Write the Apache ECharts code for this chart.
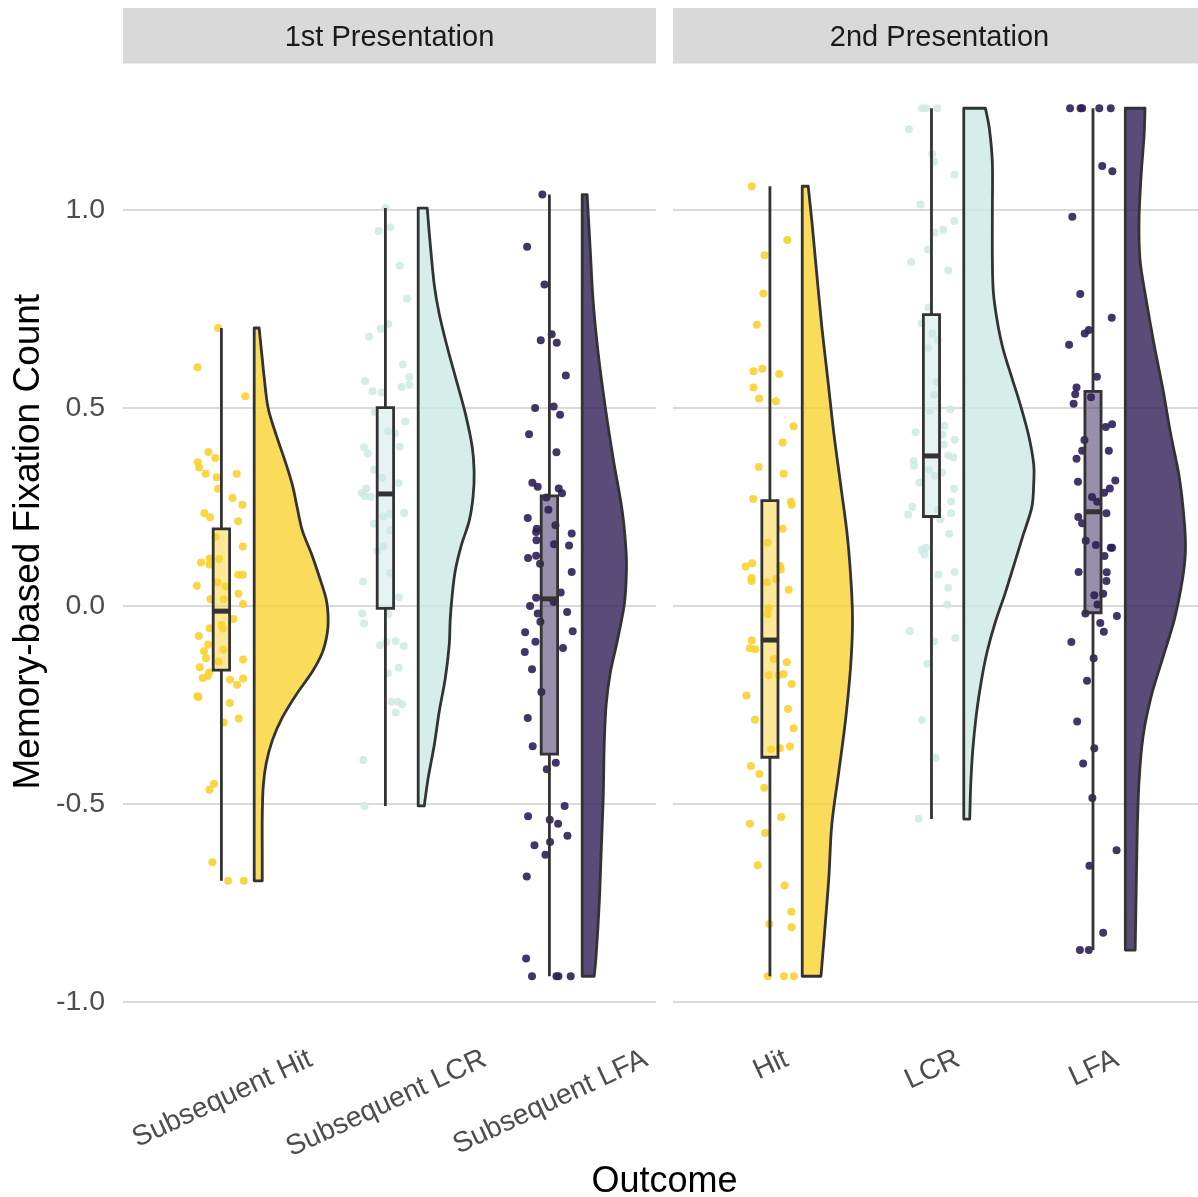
<!DOCTYPE html>
<html>
<head>
<meta charset="utf-8">
<script src="https://cdn.jsdelivr.net/npm/echarts@6.0.0/dist/echarts.min.js"></script>
<style>
  html, body { margin: 0; padding: 0; background: #ffffff; }
  #chart { width: 1198px; height: 1197px; }
</style>
</head>
<body>
<div id="chart"></div>
<script>
// ---------------- data ----------------
const facets = ['1st Presentation', '2nd Presentation'];
const categories1 = ['Subsequent Hit', 'Subsequent LCR', 'Subsequent LFA'];
const categories2 = ['Hit', 'LCR', 'LFA'];
const yTicks = [-1.0, -0.5, 0.0, 0.5, 1.0];

// box statistics: [lower whisker, Q1, median, Q3, upper whisker]
const boxSubHit = [-0.694, -0.162, -0.013, 0.195, 0.702];
const boxSubLCR = [-0.505, -0.006, 0.283, 0.501, 1.005];
const boxSubLFA = [-0.935, -0.374, 0.018, 0.278, 1.039];
const boxHit    = [-0.935, -0.382, -0.086, 0.266, 1.060];
const boxLCR    = [-0.538, 0.226, 0.379, 0.736, 1.257];
const boxLFA    = [-0.869, -0.017, 0.238, 0.542, 1.257];

// raw observations: [horizontal jitter, fixation count]
const ptsSubHit = [
  [-0.020,0.702],[-0.146,0.603],[0.146,0.530],[-0.079,0.389],[-0.037,0.374],[-0.144,0.363],[-0.136,0.350],
  [-0.096,0.334],[0.093,0.334],[-0.028,0.325],[-0.020,0.296],[0.067,0.273],[0.128,0.256],[-0.104,0.234],
  [-0.069,0.224],[0.102,0.214],[-0.035,0.175],[0.130,0.150],[-0.124,0.110],[-0.071,0.120],[-0.073,0.105],
  [-0.014,0.119],[0.102,0.079],[0.130,0.079],[-0.150,0.051],[-0.024,0.060],[0.026,0.049],[0.104,0.031],
  [-0.067,0.017],[0.014,0.017],[0.132,0.005],[0.073,-0.033],[-0.071,-0.056],[0.010,-0.057],[0.000,-0.048],
  [-0.138,-0.076],[-0.081,-0.097],[-0.106,-0.114],[0.012,-0.110],[-0.094,-0.132],[0.132,-0.135],[-0.016,-0.141],
  [-0.132,-0.155],[-0.075,-0.168],[-0.114,-0.182],[-0.083,-0.177],[0.053,-0.186],[0.132,-0.183],[0.096,-0.199],
  [-0.140,-0.230],[-0.146,-0.228],[0.051,-0.245],[0.014,-0.294],[0.106,-0.284],[-0.045,-0.449],[-0.073,-0.464],
  [-0.055,-0.647],[0.041,-0.694],[0.136,-0.694]
];
const ptsSubLCR = [
  [0.000,1.005],[-0.041,0.947],[0.030,0.956],[0.087,0.860],[0.132,0.776],[0.018,0.712],[-0.028,0.700],
  [-0.100,0.680],[0.106,0.610],[0.146,0.578],[0.146,0.559],[0.098,0.553],[-0.124,0.568],[-0.079,0.542],
  [-0.022,0.539],[-0.067,0.490],[0.120,0.466],[0.016,0.441],[0.059,0.436],[-0.130,0.401],[-0.108,0.385],
  [0.087,0.402],[-0.069,0.344],[-0.020,0.324],[0.081,0.310],[-0.116,0.297],[-0.144,0.286],[-0.126,0.278],
  [-0.089,0.276],[0.028,0.233],[0.114,0.235],[-0.014,0.226],[-0.071,0.208],[0.028,0.191],[-0.012,0.150],
  [-0.049,0.139],[0.030,0.084],[-0.136,0.062],[0.083,0.022],[0.016,-0.020],[-0.142,-0.019],[-0.130,-0.044],
  [-0.033,-0.099],[0.006,-0.091],[0.063,-0.089],[0.112,-0.101],[0.081,-0.156],[0.016,-0.170],[0.037,-0.242],
  [0.077,-0.242],[0.102,-0.248],[0.063,-0.269],[-0.134,-0.389],[-0.128,-0.505]
];
const ptsSubLFA = [
  [-0.043,1.039],[-0.136,0.907],[-0.030,0.812],[-0.053,0.671],[0.014,0.686],[0.045,0.665],[0.100,0.582],
  [-0.087,0.500],[0.026,0.504],[0.065,0.483],[-0.124,0.434],[0.043,0.388],[-0.104,0.311],[-0.071,0.301],
  [0.057,0.297],[0.077,0.285],[-0.018,0.274],[-0.006,0.243],[-0.132,0.222],[-0.077,0.195],[-0.081,0.187],
  [0.037,0.204],[0.136,0.183],[-0.079,0.166],[0.028,0.156],[0.120,0.153],[-0.130,0.121],[-0.081,0.127],
  [-0.057,0.107],[0.136,0.086],[-0.081,0.021],[0.069,0.034],[0.026,0.010],[-0.118,0.000],[-0.071,-0.019],
  [0.108,-0.015],[-0.055,-0.040],[-0.148,-0.066],[0.142,-0.064],[-0.085,-0.090],[-0.150,-0.116],[0.083,-0.106],
  [-0.106,-0.160],[-0.049,-0.217],[-0.132,-0.283],[-0.102,-0.354],[-0.016,-0.412],[0.039,-0.396],[0.093,-0.505],
  [-0.130,-0.531],[0.002,-0.540],[0.053,-0.550],[0.110,-0.580],[-0.091,-0.604],[0.004,-0.596],[-0.024,-0.628],
  [-0.138,-0.683],[-0.142,-0.890],[-0.106,-0.935],[0.043,-0.935],[0.055,-0.935],[0.130,-0.935]
];
const ptsHit = [
  [-0.112,1.060],[0.108,0.924],[-0.033,0.886],[-0.041,0.789],[-0.081,0.710],[-0.102,0.593],[-0.047,0.599],
  [0.057,0.586],[-0.102,0.552],[-0.067,0.524],[0.037,0.517],[0.146,0.454],[0.079,0.413],[0.085,0.334],
  [-0.069,0.351],[-0.104,0.270],[0.130,0.263],[0.134,0.256],[0.079,0.195],[-0.014,0.160],[-0.150,0.100],
  [-0.110,0.108],[-0.114,0.071],[-0.114,0.063],[-0.020,0.060],[0.037,0.068],[0.063,0.101],[0.067,0.092],
  [0.116,0.041],[-0.008,-0.006],[-0.014,-0.021],[-0.112,-0.087],[-0.124,-0.107],[-0.091,-0.109],[0.024,-0.134],
  [0.104,-0.142],[-0.008,-0.175],[0.053,-0.175],[0.085,-0.172],[-0.146,-0.226],[0.134,-0.197],[0.112,-0.260],
  [-0.093,-0.287],[0.146,-0.309],[0.008,-0.362],[0.061,-0.359],[0.124,-0.355],[-0.118,-0.404],[-0.065,-0.424],
  [-0.035,-0.459],[-0.124,-0.550],[0.069,-0.533],[-0.030,-0.573],[-0.075,-0.655],[0.091,-0.706],[-0.004,-0.803],
  [0.132,-0.772],[0.134,-0.811],[-0.014,-0.935],[0.087,-0.935],[0.148,-0.935]
];
const ptsLCR = [
  [-0.059,1.257],[-0.033,1.257],[0.037,1.257],[-0.140,1.204],[0.004,1.142],[0.016,1.122],[0.142,1.089],
  [-0.067,1.014],[0.142,0.972],[0.020,0.943],[0.073,0.950],[-0.022,0.900],[-0.126,0.869],[0.104,0.847],
  [-0.018,0.754],[-0.061,0.714],[0.006,0.688],[0.041,0.672],[-0.020,0.652],[0.033,0.566],[0.016,0.533],
  [0.116,0.497],[-0.012,0.493],[0.081,0.455],[-0.098,0.439],[0.069,0.433],[0.144,0.420],[0.077,0.408],
  [0.104,0.380],[0.136,0.375],[-0.110,0.366],[-0.108,0.354],[-0.016,0.344],[0.020,0.329],[0.065,0.337],
  [-0.075,0.312],[0.140,0.296],[0.122,0.264],[-0.118,0.250],[-0.144,0.231],[0.039,0.243],[0.122,0.234],
  [0.055,0.219],[0.110,0.182],[-0.033,0.147],[-0.059,0.142],[-0.043,0.130],[0.144,0.086],[0.043,0.079],
  [0.104,0.046],[0.098,0.004],[-0.134,-0.063],[0.148,-0.081],[0.016,-0.089],[-0.026,-0.146],[-0.059,-0.288],
  [0.024,-0.383],[-0.079,-0.537]
];
const ptsLFA = [
  [-0.142,1.257],[-0.077,1.257],[-0.067,1.257],[0.039,1.257],[0.110,1.257],[0.057,1.111],[0.120,1.098],
  [-0.128,0.983],[-0.079,0.788],[0.116,0.728],[-0.051,0.688],[-0.026,0.697],[-0.148,0.660],[0.024,0.579],
  [-0.102,0.552],[-0.110,0.535],[-0.120,0.511],[-0.012,0.527],[0.079,0.452],[0.118,0.459],[-0.053,0.419],
  [0.098,0.392],[-0.067,0.392],[-0.102,0.372],[-0.093,0.314],[0.138,0.317],[0.104,0.297],[0.069,0.286],
  [-0.006,0.275],[0.026,0.263],[0.083,0.234],[-0.091,0.225],[-0.067,0.209],[-0.045,0.165],[0.018,0.154],
  [0.110,0.147],[0.118,0.147],[0.071,0.126],[-0.089,0.086],[0.085,0.085],[0.083,0.063],[0.063,0.031],
  [0.008,0.027],[0.028,0.004],[-0.047,-0.019],[0.148,-0.025],[0.045,-0.043],[0.067,-0.065],[-0.134,-0.091],
  [0.004,-0.132],[-0.037,-0.189],[-0.098,-0.292],[0.008,-0.359],[-0.061,-0.398],[-0.004,-0.485],[0.146,-0.617],
  [-0.022,-0.656],[0.063,-0.825],[-0.081,-0.869],[-0.026,-0.869]
];

// density profiles: fixation count levels and the violin's half-width at each level (axis units)
const densYSubHit = [0.702,0.625,0.577,0.500,0.432,0.365,0.307,0.249,0.191,0.133,0.075,0.017,-0.031,-0.070,-0.118,-0.166,-0.224,-0.282,-0.340,-0.398,-0.456,-0.533,-0.630,-0.694];
const densWSubHit = [0.030,0.049,0.061,0.085,0.134,0.189,0.232,0.262,0.293,0.348,0.396,0.439,0.451,0.445,0.415,0.354,0.256,0.171,0.110,0.073,0.055,0.049,0.049,0.049];
const densYSubLCR = [1.005,0.916,0.811,0.738,0.654,0.571,0.487,0.403,0.340,0.278,0.215,0.152,0.089,0.026,-0.036,-0.099,-0.183,-0.267,-0.351,-0.434,-0.505];
const densWSubLCR = [0.055,0.073,0.098,0.128,0.177,0.232,0.287,0.329,0.341,0.335,0.311,0.262,0.226,0.207,0.195,0.189,0.165,0.128,0.098,0.061,0.037];
const densYSubLFA = [1.039,0.900,0.768,0.636,0.504,0.372,0.240,0.134,0.068,0.002,-0.090,-0.169,-0.249,-0.354,-0.486,-0.618,-0.750,-0.882,-0.935];
const densWSubLFA = [0.030,0.049,0.067,0.098,0.140,0.189,0.244,0.268,0.268,0.256,0.213,0.171,0.146,0.134,0.128,0.116,0.104,0.085,0.073];
const densYHit = [1.060,0.966,0.834,0.702,0.570,0.438,0.306,0.174,0.042,-0.050,-0.156,-0.288,-0.420,-0.552,-0.684,-0.816,-0.935];
const densWHit = [0.037,0.061,0.091,0.122,0.159,0.195,0.238,0.280,0.305,0.311,0.299,0.268,0.226,0.183,0.165,0.140,0.116];
const densYLCR = [1.257,1.204,1.119,0.998,0.878,0.793,0.720,0.648,0.575,0.503,0.430,0.358,0.310,0.249,0.177,0.104,0.032,-0.041,-0.113,-0.186,-0.270,-0.367,-0.452,-0.538];
const densWLCR = [0.134,0.159,0.177,0.177,0.177,0.183,0.207,0.244,0.299,0.354,0.402,0.433,0.433,0.421,0.366,0.311,0.256,0.195,0.146,0.110,0.079,0.055,0.043,0.037];
const densYLFA = [1.257,1.187,1.088,0.975,0.875,0.776,0.663,0.549,0.436,0.323,0.209,0.138,0.068,-0.032,-0.131,-0.230,-0.329,-0.443,-0.584,-0.726,-0.869];
const densWLFA = [0.122,0.116,0.098,0.085,0.091,0.128,0.177,0.232,0.280,0.335,0.366,0.372,0.354,0.305,0.232,0.159,0.110,0.085,0.073,0.067,0.061];

// ---------------- layout & style ----------------
const FONT = '"Liberation Sans", Arial, Helvetica, sans-serif';
const PALETTE = ['#FAD231', '#CCEAE5', '#2F1F57'];
const INK = '#333333';
const STROKE = 2.8;
const X_RANGE = [0.4, 3.65];
const Y_RANGE = [-1.045, 1.37];
const VIOLIN_NUDGE = 0.2;
const BOX_WIDTH = 0.1;
const TICK_FONT_SIZE = 28.5;
const LABEL_ANGLE = 25;
const PANELS = [
  { left: 123, title: facets[0], cats: categories1,
    groups: [
      { box: boxSubHit, pts: ptsSubHit, dy: densYSubHit, dw: densWSubHit },
      { box: boxSubLCR, pts: ptsSubLCR, dy: densYSubLCR, dw: densWSubLCR },
      { box: boxSubLFA, pts: ptsSubLFA, dy: densYSubLFA, dw: densWSubLFA }
    ] },
  { left: 673, title: facets[1], cats: categories2,
    groups: [
      { box: boxHit, pts: ptsHit, dy: densYHit, dw: densWHit },
      { box: boxLCR, pts: ptsLCR, dy: densYLCR, dw: densWLCR },
      { box: boxLFA, pts: ptsLFA, dy: densYLFA, dw: densWLFA }
    ] }
];
const PANEL_WIDTH = 533;
const PANEL_TOP = 63.5;
const PANEL_HEIGHT = 956.3;

function rgba(hex, a) {
  const n = parseInt(hex.slice(1), 16);
  return 'rgba(' + ((n >> 16) & 255) + ',' + ((n >> 8) & 255) + ',' + (n & 255) + ',' + a + ')';
}

// smooth curve through pixel points (Catmull-Rom converted to cubic Bezier)
function curveThrough(p) {
  let d = '';
  for (let i = 0; i < p.length - 1; i++) {
    const p0 = p[i - 1] || p[i], p1 = p[i], p2 = p[i + 1], p3 = p[i + 2] || p[i + 1];
    const c1 = [p1[0] + (p2[0] - p0[0]) / 6, p1[1] + (p2[1] - p0[1]) / 6];
    const c2 = [p2[0] - (p3[0] - p1[0]) / 6, p2[1] - (p3[1] - p1[1]) / 6];
    d += ' C' + c1[0] + ',' + c1[1] + ' ' + c2[0] + ',' + c2[1] + ' ' + p2[0] + ',' + p2[1];
  }
  return d;
}

const measureCtx = document.createElement('canvas').getContext('2d');
function textWidth(s, size) {
  measureCtx.font = size + 'px ' + FONT;
  return measureCtx.measureText(s).width;
}

const grids = [], xAxes = [], yAxes = [], series = [];

PANELS.forEach(function (panel, pi) {
  grids.push({ left: panel.left, top: PANEL_TOP, width: PANEL_WIDTH, height: PANEL_HEIGHT, containLabel: false });
  xAxes.push({
    gridIndex: pi, type: 'value', min: X_RANGE[0], max: X_RANGE[1], show: false
  });
  yAxes.push({
    gridIndex: pi, type: 'value', min: Y_RANGE[0], max: Y_RANGE[1],
    axisLine: { show: false }, axisTick: { show: false }, splitLine: { show: false },
    axisLabel: pi === 0 ? {
      show: true, customValues: yTicks, margin: 18,
      formatter: function (v) { return Number(v).toFixed(1); },
      fontSize: TICK_FONT_SIZE, color: '#4D4D4D', fontFamily: FONT
    } : { show: false },
    name: pi === 0 ? 'Memory-based Fixation Count' : '',
    nameLocation: 'middle', nameGap: 76,
    nameTextStyle: { fontSize: 37, color: '#000000', fontFamily: FONT }
  });

  // horizontal reference lines
  series.push({
    type: 'custom', coordinateSystem: 'cartesian2d', xAxisIndex: pi, yAxisIndex: pi, z: 1, silent: true,
    data: yTicks.map(function (v) { return [X_RANGE[0], v]; }),
    renderItem: function (params, api) {
      const cs = params.coordSys;
      const y = api.coord([X_RANGE[0], api.value(1)])[1];
      return { type: 'line', shape: { x1: cs.x, y1: y, x2: cs.x + cs.width, y2: y },
        style: { stroke: '#DADADA', lineWidth: 2 } };
    }
  });

  // half violins
  series.push({
    type: 'custom', coordinateSystem: 'cartesian2d', xAxisIndex: pi, yAxisIndex: pi, z: 2, silent: true,
    clip: false,
    data: panel.groups.map(function (g, gi) { return [gi + 1, g.box[2]]; }),
    renderItem: function (params, api) {
      const gi = params.dataIndex;
      const g = panel.groups[gi];
      const x0 = gi + 1 + VIOLIN_NUDGE;
      const right = g.dy.map(function (y, k) { return api.coord([x0 + g.dw[k], y]); });
      const top = api.coord([x0, g.dy[0]]);
      const bottom = api.coord([x0, g.dy[g.dy.length - 1]]);
      const d = 'M' + top[0] + ',' + top[1] + ' L' + right[0][0] + ',' + right[0][1] +
        curveThrough(right) + ' L' + bottom[0] + ',' + bottom[1] + ' Z';
      return { type: 'path', shape: { pathData: d },
        style: { fill: rgba(PALETTE[gi], 0.8), stroke: INK, lineWidth: STROKE, lineJoin: 'round' } };
    }
  });

  // jittered raw points
  panel.groups.forEach(function (g, gi) {
    series.push({
      type: 'scatter', xAxisIndex: pi, yAxisIndex: pi, z: 3, silent: true,
      symbol: 'circle', symbolSize: 8,
      itemStyle: { color: PALETTE[gi], opacity: gi === 1 ? 0.85 : 0.9 },
      data: g.pts.map(function (p) { return [gi + 1 + p[0], p[1]]; })
    });
  });

  // box plots
  series.push({
    type: 'custom', coordinateSystem: 'cartesian2d', xAxisIndex: pi, yAxisIndex: pi, z: 4, silent: true,
    data: panel.groups.map(function (g, gi) { return [gi + 1, g.box[2]]; }),
    renderItem: function (params, api) {
      const gi = params.dataIndex;
      const b = panel.groups[gi].box;
      const x = gi + 1, h = BOX_WIDTH / 2;
      const lo = api.coord([x, b[0]]), q1 = api.coord([x, b[1]]), q3 = api.coord([x, b[3]]), hi = api.coord([x, b[4]]);
      const tl = api.coord([x - h, b[3]]), br = api.coord([x + h, b[1]]);
      const m1 = api.coord([x - h, b[2]]), m2 = api.coord([x + h, b[2]]);
      const lineStyle = { stroke: INK, lineWidth: STROKE };
      return { type: 'group', children: [
        { type: 'line', shape: { x1: hi[0], y1: hi[1], x2: q3[0], y2: q3[1] }, style: lineStyle },
        { type: 'line', shape: { x1: q1[0], y1: q1[1], x2: lo[0], y2: lo[1] }, style: lineStyle },
        { type: 'rect', shape: { x: tl[0], y: tl[1], width: br[0] - tl[0], height: br[1] - tl[1] },
          style: { fill: rgba(PALETTE[gi], 0.5), stroke: INK, lineWidth: STROKE } },
        { type: 'line', shape: { x1: m1[0], y1: m1[1], x2: m2[0], y2: m2[1] },
          style: { stroke: INK, lineWidth: 5 } }
      ] };
    }
  });

  // rotated category labels, their rotated boxes top-aligned under the panel
  series.push({
    type: 'custom', coordinateSystem: 'cartesian2d', xAxisIndex: pi, yAxisIndex: pi, z: 5, silent: true,
    clip: false,
    data: panel.cats.map(function (c, ci) { return [ci + 1, Y_RANGE[0]]; }),
    renderItem: function (params, api) {
      const label = panel.cats[params.dataIndex];
      const p = api.coord([api.value(0), Y_RANGE[0]]);
      const a = LABEL_ANGLE * Math.PI / 180;
      const w = textWidth(label, TICK_FONT_SIZE);
      const boxH = w * Math.sin(a) + TICK_FONT_SIZE * Math.cos(a);
      return { type: 'text', x: p[0] + 1, y: p[1] + 25 + boxH / 2, rotation: a,
        style: { text: label, fontSize: TICK_FONT_SIZE, fontFamily: FONT, fill: '#4D4D4D',
          align: 'center', verticalAlign: 'middle' } };
    }
  });
});

const chart = echarts.init(document.getElementById('chart'), null, { renderer: 'canvas' });
chart.setOption({
  animation: false,
  backgroundColor: '#ffffff',
  grid: grids,
  xAxis: xAxes,
  yAxis: yAxes,
  series: series,
  graphic: [
    { type: 'rect', shape: { x: PANELS[0].left, y: 8, width: PANEL_WIDTH, height: 55.5 }, style: { fill: '#D9D9D9' }, silent: true },
    { type: 'rect', shape: { x: PANELS[1].left, y: 8, width: PANEL_WIDTH, height: 55.5 }, style: { fill: '#D9D9D9' }, silent: true },
    { type: 'text', x: PANELS[0].left + PANEL_WIDTH / 2, y: 38,
      style: { text: facets[0], fontSize: 29, fontFamily: FONT, fill: '#1A1A1A', align: 'center', verticalAlign: 'middle', textAlign: 'center', textVerticalAlign: 'middle' } },
    { type: 'text', x: PANELS[1].left + PANEL_WIDTH / 2, y: 38,
      style: { text: facets[1], fontSize: 29, fontFamily: FONT, fill: '#1A1A1A', align: 'center', verticalAlign: 'middle', textAlign: 'center', textVerticalAlign: 'middle' } },
    { type: 'text', x: (PANELS[0].left + PANELS[1].left + PANEL_WIDTH) / 2, y: 1182,
      style: { text: 'Outcome', fontSize: 36, fontFamily: FONT, fill: '#000000', align: 'center', verticalAlign: 'middle', textAlign: 'center', textVerticalAlign: 'middle' } }
  ]
});
</script>
</body>
</html>
